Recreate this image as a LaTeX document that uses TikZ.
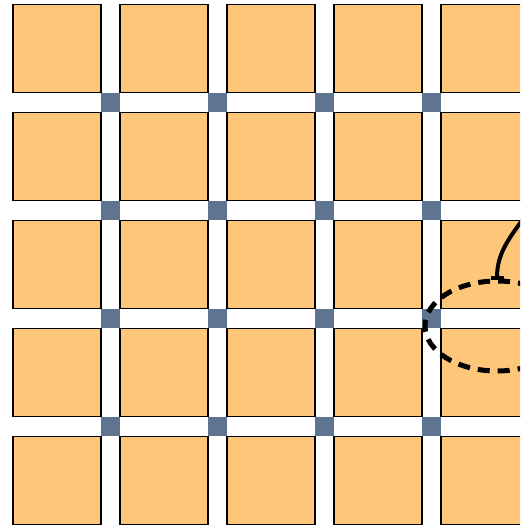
\documentclass[tikz,border=0pt]{standalone}
\usepackage{xcolor}
\usepackage{tikz}
\usetikzlibrary{arrows.meta,shapes.geometric}
\definecolor{cellorange}{RGB}{254,198,121}
\definecolor{viagray}{RGB}{94,116,145}

\begin{document}
\begin{tikzpicture}[x=1pt, y=1pt, cell/.style={draw, line width=1.3pt, fill=cellorange, minimum size=88pt, inner sep=0pt}, via/.style={fill=viagray, minimum size=19pt, inner sep=0pt}, hole/.style={ellipse, draw, line width=5pt, dash pattern=on 12pt off 8pt, minimum width=144pt, minimum height=90pt, inner sep=0pt}, link/.style={line width=4pt, -{Bar[width=13pt]}}]
\clip (0,0) rectangle (520,530);
\foreach \i in {0,...,4}{\foreach \j in {0,...,4}{\node[cell] (c\i\j) at (57+107*\i,481.5-108*\j) {};}}
\foreach \i in {0,...,3}{\foreach \j in {0,...,3}{\node[via] (v\i\j) at (110.5+107*\i,427.5-108*\j) {};}}
\node[hole] (h) at (497,204) {};
\coordinate (src) at (528,318);
\draw[link] (src) to[out=235,in=90] ([yshift=-2pt]h.north);
\end{tikzpicture}
\end{document}
